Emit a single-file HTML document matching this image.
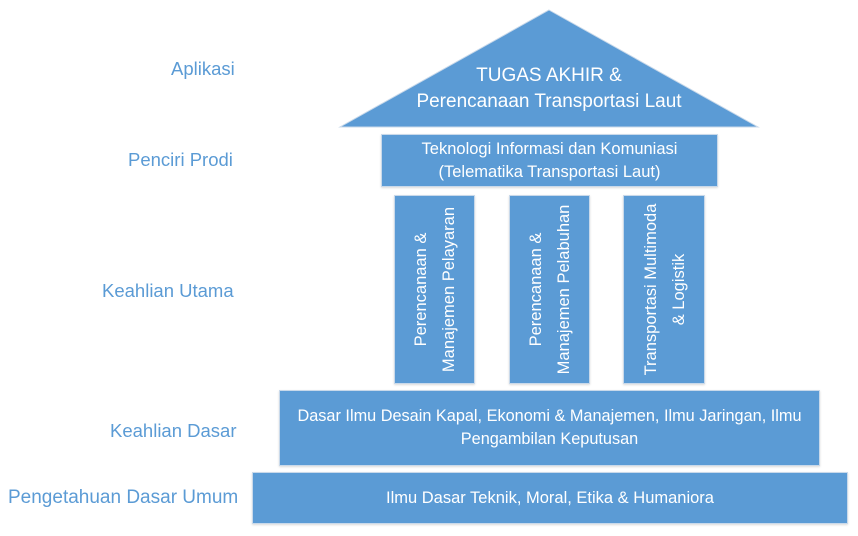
<!DOCTYPE html>
<html><head><style>
body{margin:0;width:858px;height:536px;background:#fff;position:relative;overflow:hidden;font-family:"Liberation Sans",sans-serif}
.l{position:absolute;color:#5b9bd5;font-size:18.5px;white-space:nowrap}
.b{position:absolute;background:#5b9bd5;border:1px solid #c9d9ea;box-sizing:border-box;color:#fff;display:flex;align-items:center;justify-content:center;text-align:center;font-size:16.3px;line-height:23px;box-shadow:0 1px 2px rgba(0,0,0,.15);white-space:nowrap}
.p{position:absolute;width:189px;height:81px;display:flex;align-items:center;justify-content:center;text-align:center;color:#fff;font-size:16.5px;line-height:28px;transform:rotate(-90deg);white-space:nowrap}
</style></head><body>
<div class="l" style="left:171px;top:58px">Aplikasi</div>
<div class="l" style="left:128px;top:149px">Penciri Prodi</div>
<div class="l" style="left:102px;top:280px">Keahlian Utama</div>
<div class="l" style="left:110px;top:420px">Keahlian Dasar</div>
<div class="l" style="left:8px;top:487px;font-size:19px">Pengetahuan Dasar Umum</div>
<svg style="position:absolute;left:0;top:0" width="858" height="536"><polygon points="549,10 758,127 340,127" fill="#5b9bd5" stroke="#c9d9ea" stroke-width="1"/>
<text x="549" y="81" fill="#fff" font-size="19" text-anchor="middle" font-family="Liberation Sans">TUGAS AKHIR &amp;</text>
<text x="549" y="107" fill="#fff" font-size="19" text-anchor="middle" font-family="Liberation Sans">Perencanaan Transportasi Laut</text></svg>
<div class="b" style="left:381px;top:134px;width:337px;height:53px;font-size:16.5px">Teknologi Informasi dan Komuniasi<br>(Telematika Transportasi Laut)</div>
<div class="b" style="left:394px;top:195px;width:81px;height:189px"></div>
<div class="b" style="left:509px;top:195px;width:81px;height:189px"></div>
<div class="b" style="left:623px;top:195px;width:82px;height:189px"></div>
<div class="p" style="left:340px;top:249px">Perencanaan &amp;<br>Manajemen Pelayaran</div>
<div class="p" style="left:455px;top:249px">Perencanaan &amp;<br>Manajemen Pelabuhan</div>
<div class="p" style="left:570px;top:249px">Transportasi Multimoda<br>&amp; Logistik</div>
<div class="b" style="left:279px;top:390px;width:541px;height:76px">Dasar Ilmu Desain Kapal, Ekonomi &amp; Manajemen, Ilmu Jaringan, Ilmu<br>Pengambilan Keputusan</div>
<div class="b" style="left:252px;top:472px;width:596px;height:52px;font-size:16.5px">Ilmu Dasar Teknik, Moral, Etika &amp; Humaniora</div>
</body></html>
